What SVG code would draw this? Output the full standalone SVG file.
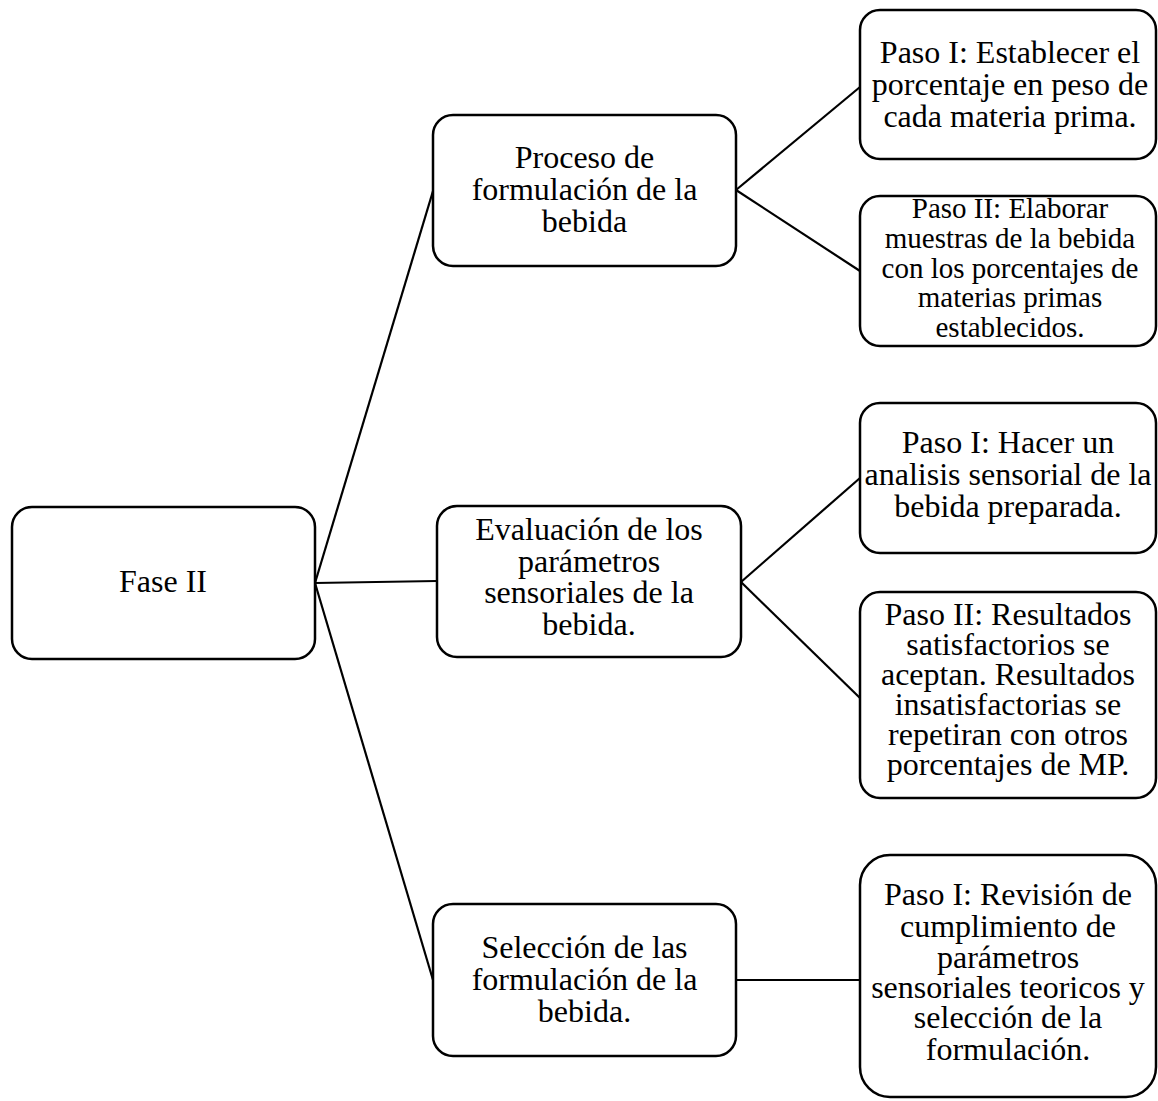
<svg xmlns="http://www.w3.org/2000/svg" width="1158" height="1101" viewBox="0 0 1158 1101">
  <style>
    .box { fill: #ffffff; stroke: #000000; stroke-width: 2.5; }
    .link { fill: none; stroke: #000000; stroke-width: 2.2; }
    text { font-family: "Liberation Serif", "Times New Roman", serif; font-size: 32px; fill: #000000; text-anchor: middle; }
    text.small { font-size: 29px; }
  </style>
  <rect width="1158" height="1101" fill="#ffffff"/>

  <g id="connectors">
    <line class="link" x1="315" y1="583" x2="433" y2="191"/>
    <line class="link" x1="315" y1="583" x2="437" y2="581"/>
    <line class="link" x1="315" y1="583" x2="433" y2="980"/>
    <line class="link" x1="736" y1="190" x2="860" y2="87"/>
    <line class="link" x1="736" y1="190" x2="860" y2="271"/>
    <line class="link" x1="741" y1="582" x2="860" y2="478"/>
    <line class="link" x1="741" y1="582" x2="860" y2="698"/>
    <line class="link" x1="736" y1="980" x2="860" y2="980"/>
  </g>

  <g id="fase2">
    <rect class="box" x="12" y="507" width="303" height="152" rx="20"/>
    <text x="163" y="592">Fase II</text>
  </g>

  <g id="proceso">
    <rect class="box" x="433" y="115" width="303" height="151" rx="20"/>
    <text x="584.5" y="168">Proceso de</text>
    <text x="584.5" y="200">formulación de la</text>
    <text x="584.5" y="232">bebida</text>
  </g>

  <g id="evaluacion">
    <rect class="box" x="437" y="506" width="304" height="151" rx="20"/>
    <text x="589" y="540">Evaluación de los</text>
    <text x="589" y="572">parámetros</text>
    <text x="589" y="603">sensoriales de la</text>
    <text x="589" y="635">bebida.</text>
  </g>

  <g id="seleccion">
    <rect class="box" x="433" y="904" width="303" height="152" rx="20"/>
    <text x="584.5" y="958">Selección de las</text>
    <text x="584.5" y="990">formulación de la</text>
    <text x="584.5" y="1022">bebida.</text>
  </g>

  <g id="proceso-paso1">
    <rect class="box" x="860" y="10" width="296" height="149" rx="20"/>
    <text x="1010" y="63">Paso I: Establecer el</text>
    <text x="1010" y="95">porcentaje en peso de</text>
    <text x="1010" y="127">cada materia prima.</text>
  </g>

  <g id="proceso-paso2">
    <rect class="box" x="860" y="196" width="296" height="150" rx="20"/>
    <text class="small" x="1010" y="218">Paso II: Elaborar</text>
    <text class="small" x="1010" y="248">muestras de la bebida</text>
    <text class="small" x="1010" y="278">con los porcentajes de</text>
    <text class="small" x="1010" y="307">materias primas</text>
    <text class="small" x="1010" y="337">establecidos.</text>
  </g>

  <g id="evaluacion-paso1">
    <rect class="box" x="860" y="403" width="296" height="150" rx="20"/>
    <text x="1008" y="453">Paso I: Hacer un</text>
    <text x="1008" y="485">analisis sensorial de la</text>
    <text x="1008" y="517">bebida preparada.</text>
  </g>

  <g id="evaluacion-paso2">
    <rect class="box" x="860" y="592" width="296" height="206" rx="20"/>
    <text x="1008" y="625">Paso II: Resultados</text>
    <text x="1008" y="655">satisfactorios se</text>
    <text x="1008" y="685">aceptan. Resultados</text>
    <text x="1008" y="715">insatisfactorias se</text>
    <text x="1008" y="745">repetiran con otros</text>
    <text x="1008" y="775">porcentajes de MP.</text>
  </g>

  <g id="seleccion-paso1">
    <rect class="box" x="860" y="855" width="296" height="242" rx="30"/>
    <text x="1008" y="905">Paso I: Revisión de</text>
    <text x="1008" y="937">cumplimiento de</text>
    <text x="1008" y="968">parámetros</text>
    <text x="1008" y="998">sensoriales teoricos y</text>
    <text x="1008" y="1028">selección de la</text>
    <text x="1008" y="1060">formulación.</text>
  </g>
</svg>
